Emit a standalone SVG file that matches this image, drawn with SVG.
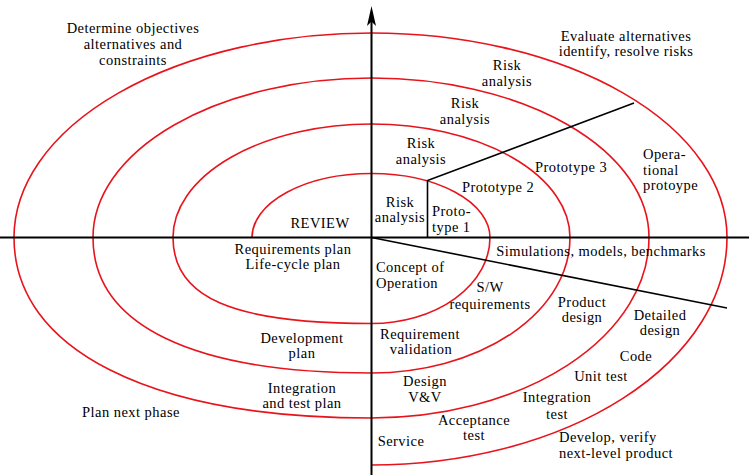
<svg xmlns="http://www.w3.org/2000/svg" width="749" height="475" viewBox="0 0 749 475">
<style>
text{font-family:"Liberation Serif","Times New Roman",serif;font-size:14.5px;letter-spacing:0.45px;fill:#000}
.m{text-anchor:middle}
.ax{stroke:#000;stroke-width:2;fill:none}
.ln{stroke:#000;stroke-width:1.6;fill:none}
.sp{stroke:#e8141c;stroke-width:1.6;fill:none}
</style>
<defs>
<marker id="arr" markerUnits="userSpaceOnUse" markerWidth="20" markerHeight="10" refX="12" refY="5" orient="auto" viewBox="0 0 20 10">
<path d="M20,5 L0,0.5 L4.5,5 L0,9.5 Z" fill="#000"/>
</marker>
</defs>
<rect width="749" height="475" fill="#fff"/>
<g id="spiral">
<path class="sp" d="M252,237.5 A119.5,64 0 0 1 371.5,173.5 A118.5,64 0 0 1 490,237.5 A118.5,86 0 0 1 371.5,323.5 C232.5,323.5 173,297.7 173,237.5 A198.5,113.5 0 0 1 371.5,124 A198.5,113.5 0 0 1 570,237.5 A198.5,135.5 0 0 1 371.5,373 C191.9,373 93,324.9 93,237.5 A278.5,159.5 0 0 1 371.5,78 A277.5,159.5 0 0 1 649,237.5 A277.5,180.5 0 0 1 371.5,418 C149.9,418 14,349.4 14,237.5 A357.5,204.5 0 0 1 371.5,33 A355.5,204.5 0 0 1 727,237.5 A355.5,227.5 0 0 1 371.5,465"/>
</g>
<g id="connectors">
<line class="ax" x1="0" y1="237.5" x2="749" y2="237.5"/>
<line class="ax" x1="371.5" y1="475" x2="371.5" y2="14" marker-end="url(#arr)"/>
<polyline class="ln" points="427.5,237.5 427.5,180.5 634,103"/>
<line class="ln" x1="371.5" y1="237.5" x2="727" y2="308"/>
</g>
<g id="q1-objectives"><text class="m" x="133" y="33">Determine objectives</text><text class="m" x="133" y="49">alternatives and</text><text class="m" x="133" y="65">constraints</text></g>
<g id="review"><text class="m" x="320" y="228">REVIEW</text></g>
<g id="q2-evaluate"><text class="m" x="626" y="41">Evaluate alternatives</text><text class="m" x="626" y="56">identify, resolve risks</text></g>
<g id="risk4"><text class="m" x="507" y="70">Risk</text><text class="m" x="507" y="86">analysis</text></g>
<g id="risk3"><text class="m" x="465" y="108">Risk</text><text class="m" x="465" y="124">analysis</text></g>
<g id="risk2"><text class="m" x="421" y="148">Risk</text><text class="m" x="421" y="164">analysis</text></g>
<g id="risk1"><text class="m" x="400" y="207">Risk</text><text class="m" x="400" y="222">analysis</text></g>
<g id="proto1"><text x="432" y="216">Proto-</text><text x="432" y="232">type 1</text></g>
<g id="proto2"><text class="m" x="498" y="192">Prototype 2</text></g>
<g id="proto3"><text class="m" x="571" y="172">Prototype 3</text></g>
<g id="operational"><text x="643" y="159">Opera-</text><text x="643" y="175">tional</text><text x="643" y="190">protoype</text></g>
<g id="req-plan"><text class="m" x="293" y="254">Requirements plan</text><text class="m" x="293" y="269">Life-cycle plan</text></g>
<g id="dev-plan"><text class="m" x="302" y="343">Development</text><text class="m" x="302" y="358">plan</text></g>
<g id="int-plan"><text class="m" x="302" y="393">Integration</text><text class="m" x="302" y="408">and test plan</text></g>
<g id="plan-next"><text class="m" x="131" y="417">Plan next phase</text></g>
<g id="simulations"><text class="m" x="601" y="256">Simulations, models, benchmarks</text></g>
<g id="concept"><text x="376" y="272">Concept of</text><text x="376" y="288">Operation</text></g>
<g id="sw-req"><text class="m" x="490" y="292">S/W</text><text class="m" x="490" y="309">requirements</text></g>
<g id="product-design"><text class="m" x="582" y="307">Product</text><text class="m" x="582" y="322">design</text></g>
<g id="detailed-design"><text class="m" x="660" y="320">Detailed</text><text class="m" x="660" y="335">design</text></g>
<g id="req-validation"><text class="m" x="420" y="339">Requirement</text><text class="m" x="421" y="354">validation</text></g>
<g id="code"><text class="m" x="636" y="361">Code</text></g>
<g id="unit-test"><text class="m" x="601" y="381">Unit test</text></g>
<g id="design-vv"><text class="m" x="425" y="386">Design</text><text class="m" x="425" y="402">V&amp;V</text></g>
<g id="int-test"><text class="m" x="557" y="402">Integration</text><text class="m" x="557" y="419">test</text></g>
<g id="acceptance"><text class="m" x="474" y="425">Acceptance</text><text class="m" x="474" y="440">test</text></g>
<g id="service"><text class="m" x="401" y="446">Service</text></g>
<g id="develop"><text x="559" y="442">Develop, verify</text><text x="559" y="458">next-level product</text></g>
</svg>
